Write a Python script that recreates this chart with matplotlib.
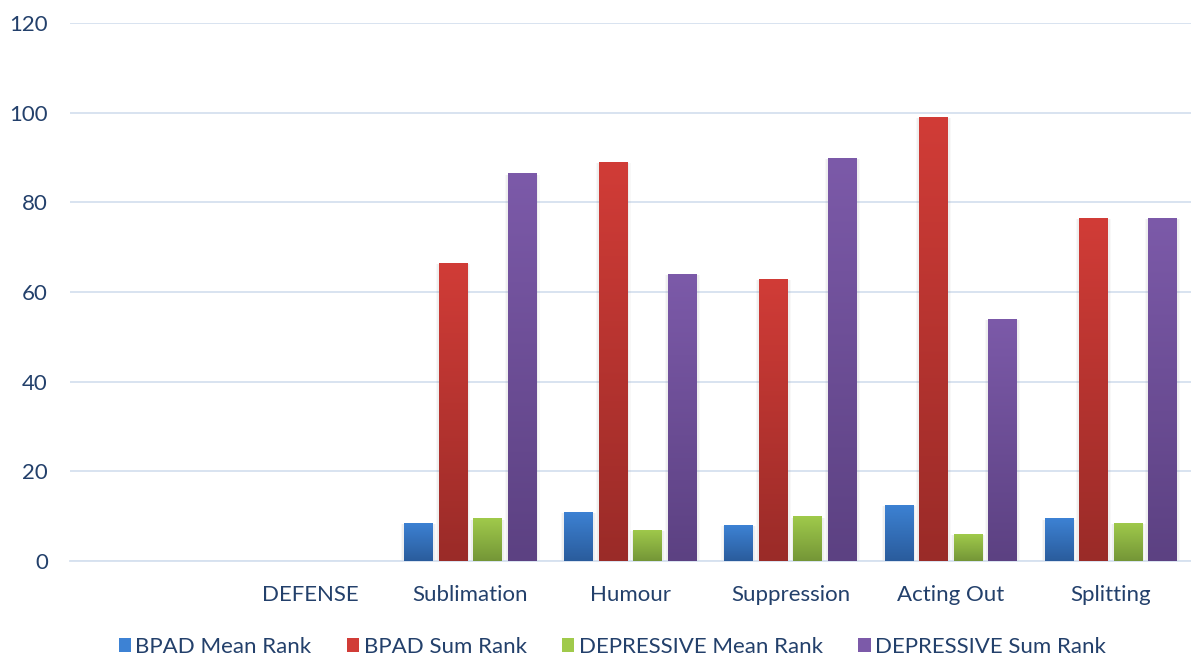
import numpy as np
import matplotlib
matplotlib.use("Agg")
import matplotlib.pyplot as plt
from matplotlib.colors import LinearSegmentedColormap
from matplotlib.patches import Rectangle, Patch

plt.rcParams['font.family'] = ['Lato', 'DejaVu Sans']

categories = ["", "DEFENSE", "Sublimation", "Humour", "Suppression", "Acting Out", "Splitting"]
series_names = ["BPAD Mean Rank", "BPAD Sum Rank", "DEPRESSIVE Mean Rank", "DEPRESSIVE Sum Rank"]
bpad_mean = [None, None, 8.5, 11.0, 8.0, 12.5, 9.5]
bpad_sum = [None, None, 66.5, 89.0, 63.0, 99.0, 76.5]
dep_mean = [None, None, 9.5, 7.0, 10.0, 6.0, 8.5]
dep_sum = [None, None, 86.5, 64.0, 90.0, 54.0, 76.5]
y_ticks = [0, 20, 40, 60, 80, 100, 120]

series = [bpad_mean, bpad_sum, dep_mean, dep_sum]
# (top colour, bottom colour) for each series' gradient fill
grads = [("#3d82d4", "#2a5c9c"),
         ("#d13c37", "#9a2b28"),
         ("#a0ca4b", "#749637"),
         ("#7c5aa9", "#5c4182")]
text_color = "#23406b"
grid_color = "#d6e1ef"

fig = plt.figure(figsize=(11.91, 6.57), dpi=100)
ax = fig.add_axes([70 / 1191, 1 - 561 / 657, 1 - 70 / 1191, (561 - 23) / 657])

step = 0.2156
width = 0.181
x = np.arange(len(categories))

for si, (vals, (ctop, cbot)) in enumerate(zip(series, grads)):
    cmap = LinearSegmentedColormap.from_list(f"g{si}", [cbot, ctop])
    grad = np.linspace(0, 1, 256).reshape(-1, 1)
    for xi, v in zip(x, vals):
        if v is None:
            continue
        x0 = xi + (si - 1.5) * step - width / 2
        # soft shadow around the bar
        for k, a in [(0.03, 0.05), (0.018, 0.07)]:
            ax.add_patch(Rectangle((x0 - k * 0.6, -0.6), width + 2 * k * 0.6, v + 0.3,
                                   facecolor="#808080", alpha=a, edgecolor="none", zorder=2))
        rect = Rectangle((x0, 0), width, v, facecolor="none", edgecolor="none", zorder=3)
        ax.add_patch(rect)
        im = ax.imshow(grad, extent=[x0, x0 + width, 0, v], origin="lower",
                       aspect="auto", cmap=cmap, zorder=3, interpolation="bilinear")
        im.set_clip_path(rect)

ax.set_xlim(-0.5, len(categories) - 0.5)
ax.set_ylim(0, 120)
ax.set_yticks(y_ticks)
ax.set_xticks(x)
ax.set_xticklabels(categories)
ax.grid(axis="y", color=grid_color, linewidth=1.3, zorder=0)
ax.set_axisbelow(True)
for s in ["top", "right", "left"]:
    ax.spines[s].set_visible(False)
ax.spines["bottom"].set_color(grid_color)
ax.spines["bottom"].set_linewidth(1.3)
ax.tick_params(length=0, colors=text_color)
ax.tick_params(axis="y", pad=16, labelsize=16)
ax.tick_params(axis="x", pad=17, labelsize=16)

handles = [Patch(facecolor=c[0], edgecolor="none") for c in grads]
fig.legend(handles, series_names, loc="lower center", bbox_to_anchor=(0.514, -0.03),
           ncol=4, frameon=False, fontsize=16, labelcolor=text_color,
           handlelength=0.55, handleheight=0.55, handletextpad=0.2, columnspacing=1.6)

fig.savefig("out.png", dpi=100)
